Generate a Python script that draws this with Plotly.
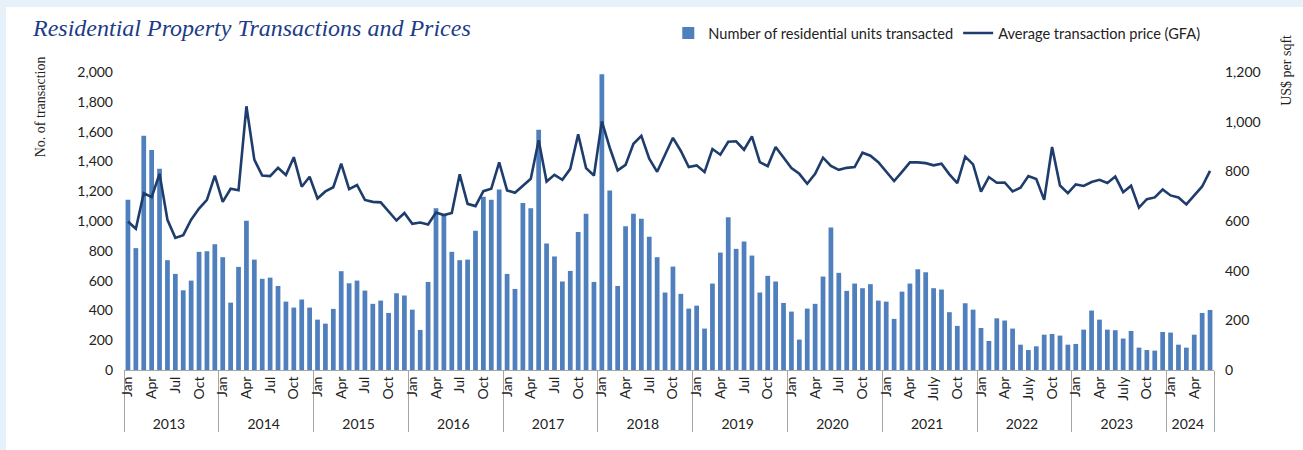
import plotly.graph_objects as go

years = [2013, 2014, 2015, 2016, 2017, 2018, 2019, 2020, 2021, 2022, 2023, 2024]
months_per_year = [12] * 11 + [6]
month_labels_std = ["Jan", "", "", "Apr", "", "", "Jul", "", "", "Oct", "", ""]
month_labels_july = ["Jan", "", "", "Apr", "", "", "July", "", "", "Oct", "", ""]
july_years = [2021, 2022, 2023]

units = [
    1142, 818, 1572, 1476, 1351, 737, 645, 535, 600, 793, 797, 844,   # 2013
    757, 452, 692, 1001, 741, 612, 620, 564, 459, 419, 473, 419,      # 2014
    338, 311, 410, 663, 582, 600, 533, 444, 466, 383, 515, 500,       # 2015
    405, 269, 591, 1086, 1042, 793, 737, 741, 934, 1163, 1142, 1212,  # 2016
    645, 544, 1120, 1086, 1613, 849, 762, 594, 665, 927, 1048, 591,   # 2017
    1985, 1205, 564, 965, 1048, 1015, 894, 757, 520, 694, 511, 412,   # 2018
    432, 278, 580, 788, 1026, 813, 862, 768, 520, 632, 594, 450,      # 2019
    392, 204, 412, 444, 627, 956, 652, 531, 580, 549, 576, 466,       # 2020
    459, 343, 526, 580, 676, 656, 549, 540, 388, 296, 448, 405,       # 2021
    282, 195, 347, 332, 278, 170, 134, 159, 237, 242, 231, 170,       # 2022
    175, 271, 399, 338, 271, 267, 211, 262, 150, 134, 130, 255,       # 2023
    251, 170, 150, 237, 383, 403,                                     # 2024
]

price = [
    598, 569, 712, 696, 790, 605, 532, 543, 605, 650, 685, 783,       # 2013
    677, 730, 724, 1062, 847, 783, 781, 814, 785, 857, 738, 778,      # 2014
    691, 719, 736, 831, 728, 745, 685, 677, 675, 638, 602, 632,       # 2015
    589, 594, 586, 634, 624, 632, 788, 669, 660, 720, 730, 836,       # 2016
    723, 714, 742, 770, 925, 759, 786, 766, 810, 949, 813, 783,       # 2017
    1001, 895, 804, 826, 911, 943, 851, 798, 867, 935, 882, 817,      # 2018
    824, 797, 890, 867, 919, 921, 887, 941, 837, 821, 898, 855,       # 2019
    813, 790, 750, 790, 855, 822, 806, 814, 817, 875, 863, 837,       # 2020
    797, 761, 798, 836, 836, 833, 824, 831, 788, 753, 859, 828,       # 2021
    718, 777, 754, 755, 719, 734, 781, 769, 685, 898, 743, 712,       # 2022
    747, 741, 757, 766, 753, 779, 716, 742, 654, 688, 695, 727,       # 2023
    703, 695, 667, 702, 739, 802,                                     # 2024
]

# Build two-level category axis (year / month).
# Hidden month slots get unique invisible labels; the "July" years use their own
# invisible suffix so category ordering stays chronological.
outer, inner = [], []
for y, n in zip(years, months_per_year):
    alt = y in july_years
    labels = month_labels_july if alt else month_labels_std
    mark = "\u200c" if alt else "\u200b"
    for i in range(n):
        outer.append(str(y))
        if labels[i]:
            lab = labels[i] + ("\u200c" if alt else "")
        else:
            lab = mark * (i + 1)
        inner.append(lab)

bar_color = "#4F7FBC"
line_color = "#1F3D6C"
tick_font = dict(family="Lato, Noto Sans, sans-serif", size=14, color="#222222")
serif = "Liberation Serif, DejaVu Serif, serif"

fig = go.Figure()
fig.add_trace(go.Bar(
    x=[outer, inner], y=units, name="Number of residential units transacted",
    marker=dict(color=bar_color, line=dict(width=0)),
))
fig.add_trace(go.Scatter(
    x=[outer, inner], y=price, name="Average transaction price (GFA)",
    mode="lines", line=dict(color=line_color, width=2.6), yaxis="y2",
))

fig.update_layout(
    width=1303, height=450,
    margin=dict(l=124, r=89, t=72, b=80),
    paper_bgcolor="#E6F1FA",
    plot_bgcolor="white",
    bargap=0.4,
    showlegend=True,
    legend=dict(orientation="h", x=0.992, xanchor="right", y=1.131, yanchor="middle",
                font=dict(family="Lato, Noto Sans, sans-serif", size=14.6, color="#222222"),
                bgcolor="rgba(0,0,0,0)", itemwidth=30, traceorder="normal"),
    xaxis=dict(
        type="multicategory", tickangle=-90, tickmode="linear", dtick=1,
        showline=True, linecolor="#A6A6A6", linewidth=1,
        showdividers=True, dividercolor="#A6A6A6", dividerwidth=1,
        ticks="", showgrid=False, tickfont=tick_font,
    ),
    yaxis=dict(
        range=[0, 2000], dtick=200, tickformat=",", showgrid=False, zeroline=False,
        showline=False, ticks="", tickfont=tick_font, ticklabelstandoff=10,
    ),
    yaxis2=dict(
        range=[0, 1200], dtick=200, tickformat=",", overlaying="y", side="right",
        showgrid=False, zeroline=False, showline=False, ticks="", tickfont=tick_font,
        ticklabelstandoff=10,
    ),
    shapes=[dict(type="rect", xref="paper", yref="paper", x0=-0.1083, x1=1.09,
                 y0=-0.3, y1=1.218, fillcolor="white", line=dict(width=0), layer="below")],
    annotations=[
        dict(text="Residential Property Transactions and Prices", xref="paper", yref="paper",
             x=-0.086, y=1.148, xanchor="left", yanchor="middle", showarrow=False,
             font=dict(family=serif, size=24, color="#1C3C86", style="italic")),
        dict(text="No. of transaction", xref="paper", yref="paper", x=-0.077, y=1.058,
             xanchor="center", yanchor="top", textangle=-90, showarrow=False,
             font=dict(family=serif, size=14, color="#222222")),
        dict(text="US$ per sqft", xref="paper", yref="paper", x=1.067, y=1.13,
             xanchor="center", yanchor="top", textangle=-90, showarrow=False,
             font=dict(family=serif, size=14, color="#222222")),
    ],
)

fig.write_html("out.html", config={"displayModeBar": False},
               post_script="document.body.style.margin='0';")
